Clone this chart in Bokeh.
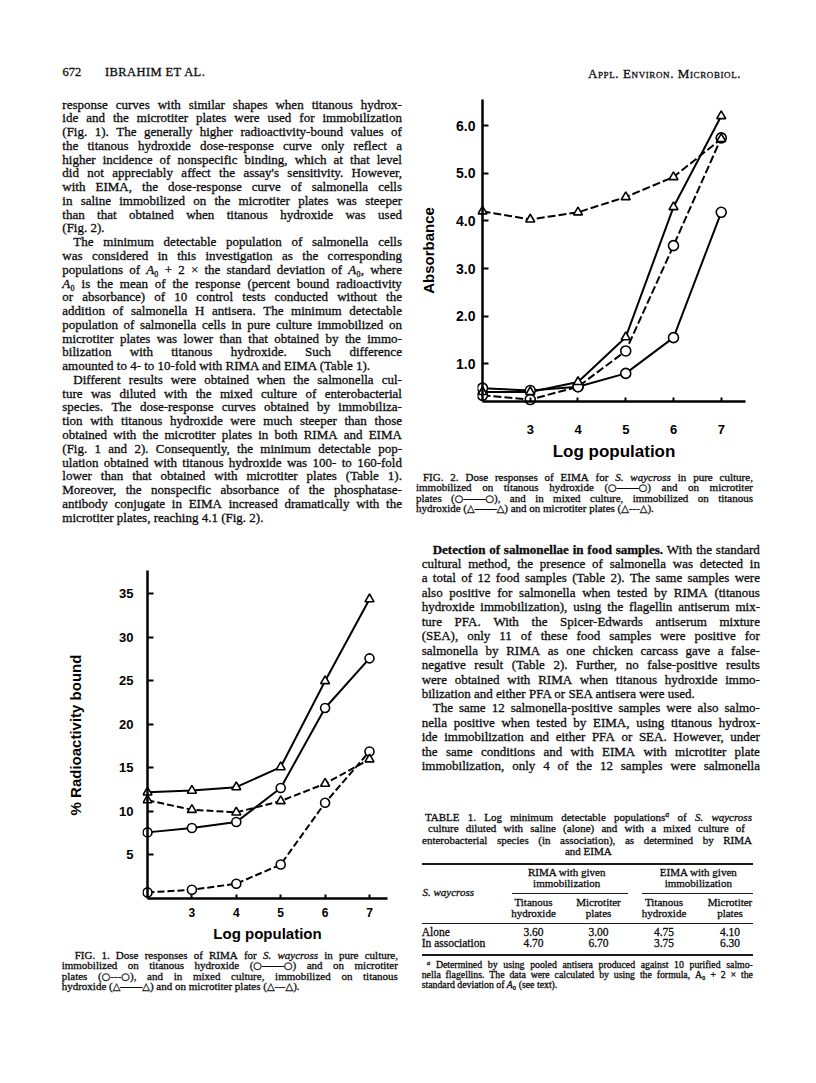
from bokeh.plotting import figure
from bokeh.models import Div, FixedTicker, PrintfTickFormatter, Range1d, LinearAxis
from bokeh.layouts import column, row
from bokeh.embed import file_html
from bokeh.resources import INLINE

# ---------------- data read from the page ----------------
log_population = [2, 3, 4, 5, 6, 7]

# FIG. 1  RIMA, % radioactivity bound
rima_titanous_pure = [7.6, 8.1, 8.8, 12.7, 21.9, 27.6]
rima_microtiter_pure = [0.7, 1.0, 1.7, 3.9, 11.0, 16.9]
rima_titanous_mixed = [12.2, 12.4, 12.8, 15.1, 25.0, 34.4]
rima_microtiter_mixed = [11.3, 10.2, 9.9, 11.2, 13.2, 16.0]

# FIG. 2  EIMA, absorbance
eima_titanous_pure = [0.49, 0.44, 0.52, 0.80, 1.55, 4.18]
eima_microtiter_pure = [0.34, 0.25, 0.52, 1.27, 3.48, 5.74]
eima_titanous_mixed = [0.41, 0.41, 0.62, 1.56, 4.29, 6.20]
eima_microtiter_mixed = [4.20, 4.03, 4.18, 4.50, 4.92, 5.72]

fig1_x_ticks = [3, 4, 5, 6, 7]
fig1_y_ticks = [5, 10, 15, 20, 25, 30, 35]
fig2_x_ticks = [3, 4, 5, 6, 7]
fig2_y_ticks = [1, 2, 3, 4, 5, 6]

# TABLE 1
table_rows = ["Alone", "In association"]
table_rima_titanous = ["3.60", "4.70"]
table_rima_microtiter = ["3.00", "6.70"]
table_eima_titanous = ["4.75", "3.75"]
table_eima_microtiter = ["4.10", "6.30"]

SANS = "Liberation Sans"
SERIF = "'Liberation Serif','Times New Roman',serif"


# ---------------- charts ----------------
def make_chart(cfg, series):
    p = figure(width=cfg["w"], height=cfg["h"], x_range=Range1d(*cfg["xr"]), y_range=Range1d(*cfg["yr"]),
               output_backend="svg", toolbar_location=None,
               min_border_left=cfg["mb"][0], min_border_right=cfg["mb"][1],
               min_border_top=cfg["mb"][2], min_border_bottom=cfg["mb"][3])
    p.title.visible = False
    p.outline_line_color = None
    p.grid.visible = False
    p.background_fill_color = "white"
    p.border_fill_color = "white"

    # edge axes: tick labels and titles
    xa = p.xaxis[0]
    ya = p.yaxis[0]
    xa.ticker = FixedTicker(ticks=cfg["xt"])
    ya.ticker = FixedTicker(ticks=cfg["yt"])
    xa.bounds = cfg["x_title_bounds"]
    ya.bounds = cfg["y_title_bounds"]
    if cfg["yfmt"]:
        ya.formatter = PrintfTickFormatter(format=cfg["yfmt"])
    for a in (xa, ya):
        a.axis_line_color = None
        a.major_tick_line_color = None
        a.minor_tick_line_color = None
        a.major_tick_in = 0
        a.major_tick_out = 0
        a.major_label_text_font = SANS
        a.major_label_text_font_style = "bold"
        a.major_label_text_color = "black"
        a.axis_label_text_font = SANS
        a.axis_label_text_font_style = "bold"
        a.axis_label_text_color = "black"
    ya.major_label_text_font_size = cfg["yts"]
    xa.major_label_text_font_size = cfg["xts"]
    ya.major_label_standoff = cfg["y_std"]
    xa.major_label_standoff = cfg["x_std"]
    ya.axis_label = cfg["y_title"]
    xa.axis_label = "Log population"
    ya.axis_label_text_font_size = cfg["y_title_size"]
    xa.axis_label_text_font_size = cfg["x_title_size"]
    ya.axis_label_standoff = cfg["y_title_std"]
    xa.axis_label_standoff = cfg["x_title_std"]

    # axes drawn through the data origin: line and inward ticks
    fy = LinearAxis(fixed_location=cfg["y_axis_at"], bounds=cfg["y_line_bounds"],
                    ticker=FixedTicker(ticks=cfg["yt"]),
                    major_label_overrides={t: "" for t in cfg["yt"]})
    fx = LinearAxis(fixed_location=cfg["x_axis_at"], bounds=cfg["x_line_bounds"],
                    ticker=FixedTicker(ticks=cfg["xt"]),
                    major_label_overrides={t: "" for t in cfg["xt"]})
    for a, tin in ((fy, 6), (fx, 4)):
        a.axis_line_color = "black"
        a.axis_line_width = 2.5
        a.major_tick_line_color = "black"
        a.major_tick_line_width = 2
        a.major_tick_in = tin
        a.major_tick_out = 0
        a.minor_tick_line_color = None
        a.major_label_standoff = 0
        a.major_label_text_font_size = "1px"
    p.add_layout(fy, "left")
    p.add_layout(fx, "below")

    for vals, dashed, marker in series:
        p.line(log_population, vals, line_color="black", line_width=2,
               line_dash=cfg["dash"] if dashed else "solid")
    for vals, dashed, marker in series:
        p.scatter(log_population, vals, marker=marker,
                  size=cfg["cs"] if marker == "circle" else cfg["ts"],
                  fill_color="white", line_color="black", line_width=1.6)
    return p


fig1 = make_chart(dict(
    w=414, h=423, mb=(142, 22, 41, 45), xr=(1.8874, 7.518), yr=(-0.575, 38.16),
    xt=fig1_x_ticks, yt=fig1_y_ticks, yfmt=None,
    x_axis_at=0, y_axis_at=2, x_line_bounds=(2, 7.405), y_line_bounds=(0, 37.7),
    x_title_bounds=(2, 7), y_title_bounds=(0, 36.3),
    yts="13px", xts="12px", y_std=9, x_std=4,
    y_title="% Radioactivity bound", y_title_size="15px", x_title_size="15px",
    y_title_std=32, x_title_std=5, dash="7 3", cs=9, ts=9),
    [(rima_titanous_pure, False, "circle"), (rima_microtiter_pure, True, "circle"),
     (rima_titanous_mixed, False, "triangle"), (rima_microtiter_mixed, True, "triangle")])

fig2 = make_chart(dict(
    w=402, h=375, mb=(63, 66, 2, 63), xr=(1.8953, 7.6126), yr=(0.126, 6.630),
    xt=fig2_x_ticks, yt=fig2_y_ticks, yfmt="%.1f",
    x_axis_at=0.21, y_axis_at=2, x_line_bounds=(2, 7.51), y_line_bounds=(0.21, 6.55),
    x_title_bounds=(1.9, 7.0), y_title_bounds=(0.05, 6.55),
    yts="14px", xts="13px", y_std=2, x_std=19,
    y_title="Absorbance", y_title_size="15px", x_title_size="17px",
    y_title_std=16, x_title_std=5, dash="8 3", cs=10, ts=9),
    [(eima_titanous_pure, False, "circle"), (eima_microtiter_pure, True, "circle"),
     (eima_titanous_mixed, False, "triangle"), (eima_microtiter_mixed, True, "triangle")])


# ---------------- text blocks ----------------
class Block:
    def __init__(self, ox, oy, w, h):
        self.ox, self.oy, self.w, self.h = ox, oy, w, h
        self.items = []

    def text(self, html, x, cy, f, mode="left", w=300, indent=0, caps=False, extra=""):
        L = f
        base = cy + (0.36 if caps else 0.26) * f
        top = base - (L - 1.107 * f) / 2 - 0.891 * f - self.oy
        st = (f"position:absolute;top:{top:.1f}px;height:{L:.1f}px;line-height:{L:.1f}px;"
              f"font-size:{f}px;white-space:nowrap;{extra}")
        if mode == "justify":
            left = x + indent - self.ox
            inner = "".join(f"<span>{wd}</span>" for wd in html.split(" "))
            st += (f"left:{left:.1f}px;width:{w - indent:.1f}px;display:flex;"
                   "justify-content:space-between;align-items:baseline;")
        elif mode == "center":
            inner = html
            st += f"left:{x - 160 - self.ox:.1f}px;width:320px;text-align:center;"
        else:
            inner = html
            st += f"left:{x + indent - self.ox:.1f}px;text-align:left;"
        self.items.append(f'<div style="{st}">{inner}</div>')

    def para(self, lines, x, w, cy0, step, f, indent_idx=(), last_idx=(), indent=11):
        for i, ln in enumerate(lines):
            mode = "left" if i in last_idx else "justify"
            self.text(ln, x, cy0 + i * step, f, mode=mode, w=w,
                      indent=indent if i in indent_idx else 0)

    def rule(self, x0, x1, y, t):
        self.items.append(
            f'<div style="position:absolute;left:{x0 - self.ox:.1f}px;top:{y - t / 2 - self.oy:.1f}px;'
            f'width:{x1 - x0:.1f}px;height:{t}px;background:#1a1a1a;"></div>')

    def div(self):
        css = ("<style>sup{font-size:0.72em;vertical-align:0.45em;line-height:0}"
               "big{font-family:'DejaVu Sans',sans-serif;font-size:0.9em;}</style>")
        html = (css + f'<div style="position:relative;width:{self.w}px;height:{self.h}px;'
                f'font-family:{SERIF};color:#0d0d0d;-webkit-text-stroke:0.3px #0d0d0d;'
                f'overflow:visible;">{"".join(self.items)}</div>')
        return Div(text=html, width=self.w, height=self.h, margin=0)


A0 = "<i>A</i>\u2080"
C = "<big>○</big>"
T = "<big>△</big>"

left_lines = [
    "response curves with similar shapes when titanous hydrox-",
    "ide and the microtiter plates were used for immobilization",
    "(Fig. 1). The generally higher radioactivity-bound values of",
    "the titanous hydroxide dose-response curve only reflect a",
    "higher incidence of nonspecific binding, which at that level",
    "did not appreciably affect the assay's sensitivity. However,",
    "with EIMA, the dose-response curve of salmonella cells",
    "in saline immobilized on the microtiter plates was steeper",
    "than that obtained when titanous hydroxide was used",
    "(Fig. 2).",
    "The minimum detectable population of salmonella cells",
    "was considered in this investigation as the corresponding",
    f"populations of {A0} + 2 × the standard deviation of {A0}, where",
    f"{A0} is the mean of the response (percent bound radioactivity",
    "or absorbance) of 10 control tests conducted without the",
    "addition of salmonella H antisera. The minimum detectable",
    "population of salmonella cells in pure culture immobilized on",
    "microtiter plates was lower than that obtained by the immo-",
    "bilization with titanous hydroxide. Such difference",
    "amounted to 4- to 10-fold with RIMA and EIMA (Table 1).",
    "Different results were obtained when the salmonella cul-",
    "ture was diluted with the mixed culture of enterobacterial",
    "species. The dose-response curves obtained by immobiliza-",
    "tion with titanous hydroxide were much steeper than those",
    "obtained with the microtiter plates in both RIMA and EIMA",
    "(Fig. 1 and 2). Consequently, the minimum detectable pop-",
    "ulation obtained with titanous hydroxide was 100- to 160-fold",
    "lower than that obtained with microtiter plates (Table 1).",
    "Moreover, the nonspecific absorbance of the phosphatase-",
    "antibody conjugate in EIMA increased dramatically with the",
    "microtiter plates, reaching 4.1 (Fig. 2).",
]

right_lines = [
    "<b>Detection</b> <b>of</b> <b>salmonellae</b> <b>in</b> <b>food</b> <b>samples.</b> With the standard",
    "cultural method, the presence of salmonella was detected in",
    "a total of 12 food samples (Table 2). The same samples were",
    "also positive for salmonella when tested by RIMA (titanous",
    "hydroxide immobilization), using the flagellin antiserum mix-",
    "ture PFA. With the Spicer-Edwards antiserum mixture",
    "(SEA), only 11 of these food samples were positive for",
    "salmonella by RIMA as one chicken carcass gave a false-",
    "negative result (Table 2). Further, no false-positive results",
    "were obtained with RIMA when titanous hydroxide immo-",
    "bilization and either PFA or SEA antisera were used.",
    "The same 12 salmonella-positive samples were also salmo-",
    "nella positive when tested by EIMA, using titanous hydrox-",
    "ide immobilization and either PFA or SEA. However, under",
    "the same conditions and with EIMA with microtiter plate",
    "immobilization, only 4 of the 12 samples were salmonella",
]

cap2_lines = [
    "FIG. 2. Dose responses of EIMA for <i>S.</i> <i>waycross</i> in pure culture,",
    f"immobilized on titanous hydroxide ({C}——{C}) and on microtiter",
    f"plates ({C}——{C}), and in mixed culture, immobilized on titanous",
    f"hydroxide ({T}——{T}) and on microtiter plates ({T}---{T}).",
]

cap1_lines = [
    "FIG. 1. Dose responses of RIMA for <i>S.</i> <i>waycross</i> in pure culture,",
    f"immobilized on titanous hydroxide ({C}——{C}) and on microtiter",
    f"plates ({C}---{C}), and in mixed culture, immobilized on titanous",
    f"hydroxide ({T}——{T}) and on microtiter plates ({T}---{T}).",
]

# left column, top block
L1 = Block(0, 0, 414, 525)
L1.text("672", 62.5, 72, 12.5, caps=True)
L1.text("IBRAHIM ET AL.", 105, 72, 12.5, caps=True, extra="letter-spacing:0.4px;")
L1.para(left_lines, 62.3, 339.7, 105, 13.77, 13, indent_idx=(10, 20), last_idx=(9, 19, 30))

# left column, fig. 1 caption
C1 = Block(0, 948, 414, 135)
for i, (ln, cy) in enumerate(zip(cap1_lines, [956, 966.5, 977, 987.5])):
    C1.text(ln, 61.7, cy, 11, mode="left" if i == 3 else "justify", w=336.3,
            indent=13 if i == 0 else 0)

# right column header
R0 = Block(414, 0, 402, 93)
R0.text("Appl. Environ. Microbiol.", 588, 73, 13, caps=True,
        extra="font-variant:small-caps;letter-spacing:0.6px;")

# right column lower block
R2 = Block(414, 468, 402, 615)
for i, (ln, cy) in enumerate(zip(cap2_lines, [478, 488.5, 499, 509.5])):
    R2.text(ln, 416, cy, 11, mode="left" if i == 3 else "justify", w=337,
            indent=7 if i == 0 else 0)
R2.para(right_lines, 421.7, 338.3, 550, 14.45, 13, indent_idx=(0, 11), last_idx=(10,))

# table caption
R2.text("TABLE 1. Log minimum detectable populations<sup><i>a</i></sup> of <i>S.</i> <i>waycross</i>",
        425, 818, 11, mode="justify", w=327)
R2.text("culture diluted with saline (alone) and with a mixed culture of",
        428, 829.5, 11, mode="justify", w=317)
R2.text("enterobacterial species (in association), as determined by RIMA",
        422, 841, 11, mode="justify", w=330)
R2.text("and EIMA", 588.3, 852.5, 11, mode="center")

# table
R2.rule(421.7, 753, 864, 1.6)
R2.text("RIMA with given", 566.7, 873, 11, mode="center")
R2.text("immobilization", 566.7, 884.5, 11, mode="center")
R2.text("EIMA with given", 698.3, 873, 11, mode="center")
R2.text("immobilization", 698.3, 884.5, 11, mode="center")
R2.text("<i>S. waycross</i>", 422.5, 893, 11)
R2.rule(511.7, 628.3, 893.5, 0.9)
R2.rule(641.7, 753, 893.5, 0.9)
col_centers = [533.5, 598.5, 664, 730]
col_heads = [("Titanous", "hydroxide"), ("Microtiter", "plates"),
             ("Titanous", "hydroxide"), ("Microtiter", "plates")]
for cx, (h1, h2) in zip(col_centers, col_heads):
    R2.text(h1, cx, 903, 11, mode="center")
    R2.text(h2, cx, 914.5, 11, mode="center")
R2.rule(421.7, 753, 923.5, 0.9)
row_y = [933.5, 944.5]
for k, name in enumerate(table_rows):
    R2.text(name, 421.7, row_y[k], 11.5)
    vals = [table_rima_titanous[k], table_rima_microtiter[k],
            table_eima_titanous[k], table_eima_microtiter[k]]
    for cx, v in zip(col_centers, vals):
        R2.text(v, cx, row_y[k], 11.5, mode="center")
R2.rule(421.7, 753, 955, 1.6)

foot = [
    "<sup><i>a</i></sup> Determined by using pooled antisera produced against 10 purified salmo-",
    "nella flagellins. The data were calculated by using the formula, A\u2080 + 2 × the",
    f"standard deviation of {A0} (see text).",
]
for i, (ln, cy) in enumerate(zip(foot, [965.5, 975.5, 985.5])):
    R2.text(ln, 421.7, cy, 9.8, mode="left" if i == 2 else "justify", w=331.3,
            indent=5 if i == 0 else 0)

left_col = column(L1.div(), fig1, C1.div(), spacing=0)
right_col = column(R0.div(), fig2, R2.div(), spacing=0)
page = row(left_col, right_col, spacing=0)

open("out.html", "w").write(file_html(page, INLINE))
